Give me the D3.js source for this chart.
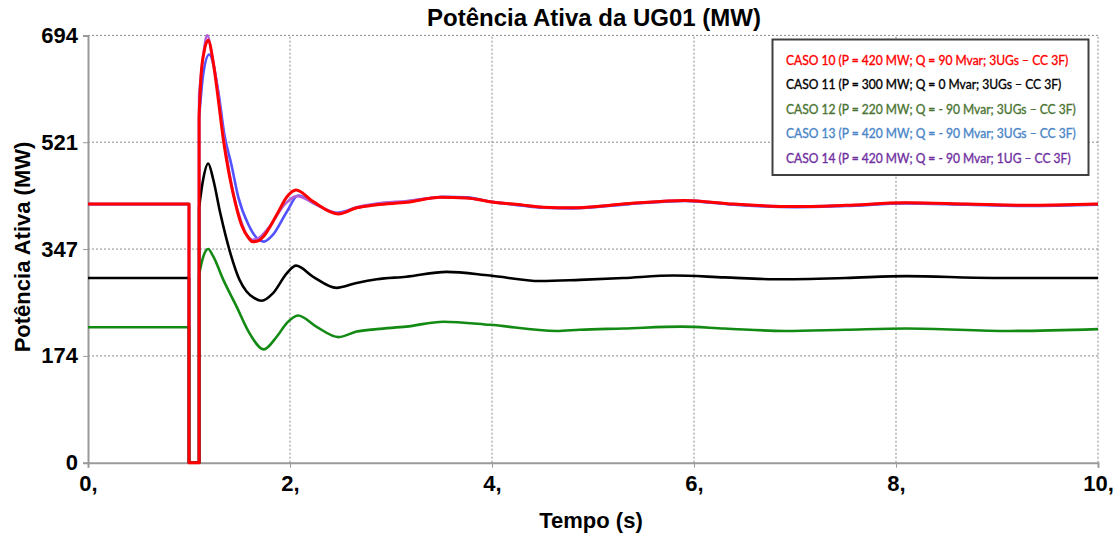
<!DOCTYPE html>
<html><head><meta charset="utf-8">
<script src="https://cdn.jsdelivr.net/npm/d3@7"></script>
<style>body{margin:0;background:#fff} svg{display:block}</style>
</head><body>
<svg id="c" width="1116" height="535"></svg>
<script>
// ---------------- DATA ----------------
const chartTitle = "Potência Ativa da UG01 (MW)";
const xTitle = "Tempo (s)";
const yTitle = "Potência Ativa (MW)";
const xTicks = [0, 2, 4, 6, 8, 10];
const yTicks = [0, 173.5, 347, 520.5, 694];
const caseNames = [
  "CASO 10 (P = 420 MW; Q = 90 Mvar; 3UGs – CC 3F)",
  "CASO 11 (P = 300 MW; Q = 0 Mvar; 3UGs – CC 3F)",
  "CASO 12 (P = 220 MW; Q = - 90 Mvar; 3UGs – CC 3F)",
  "CASO 13 (P = 420 MW; Q = - 90 Mvar; 3UGs – CC 3F)",
  "CASO 14 (P = 420 MW; Q = - 90 Mvar; 1UG – CC 3F)"
];
const preFaultP = [420, 300, 220, 420, 420];
const faultTimes = [1.0, 1.1]; // fault applied, fault cleared
// post-clearing response [t (s), P (MW)]
const caso10 = [[1.10,565],[1.12,630],[1.15,668],[1.19,686],[1.24,650],[1.29,590],[1.34,525],[1.39,475],[1.44,435],[1.52,386],[1.59,365],[1.63,359],[1.68,360],[1.74,368],[1.87,403],[1.97,432],[2.06,443],[2.23,424],[2.48,404],[2.66,414],[2.86,419],[3.16,423],[3.49,431],[3.75,430],[3.98,424],[4.28,419],[4.51,415],[4.80,414],[5.36,421],[5.91,426],[6.39,420],[7.00,416],[7.50,418],[8.10,422],[8.70,420],[9.30,418],[10.0,420]];
const caso11 = [[1.10,415],[1.14,460],[1.19,486],[1.24,460],[1.31,405],[1.41,340],[1.50,297],[1.57,278],[1.64,268],[1.72,263],[1.83,275],[1.97,308],[2.06,320],[2.23,302],[2.46,284],[2.66,292],[2.86,298],[3.15,302],[3.55,310],[3.98,304],[4.48,295],[4.87,297],[5.30,300],[5.80,304],[6.30,301],[6.80,298],[7.50,300],[8.10,303],[8.96,300],[10.0,300]];
const caso12 = [[1.10,306],[1.14,334],[1.19,347],[1.24,335],[1.34,297],[1.47,254],[1.60,210],[1.74,184],[1.87,205],[1.97,227],[2.08,239],[2.26,221],[2.48,204],[2.66,213],[2.86,217],[3.15,221],[3.52,229],[3.98,224],[4.64,214],[4.87,216],[5.30,218],[5.87,221],[6.30,218],[6.90,214],[7.50,216],[8.10,218],[9.13,214],[10.0,217]];
const caso13 = [[1.10,560],[1.14,630],[1.20,663],[1.29,603],[1.35,533],[1.42,484],[1.49,430],[1.59,386],[1.67,365],[1.74,359],[1.83,370],[1.97,408],[2.08,434],[2.25,420],[2.46,406],[2.66,414],[2.86,420],[3.16,424],[3.52,432],[3.75,431],[3.98,424],[4.28,418],[4.51,414],[4.80,413],[5.36,420],[5.91,425],[6.39,419],[7.00,415],[7.50,417],[8.10,421],[8.70,419],[9.30,417],[10.0,419]];
const caso14 = [[1.10,598],[1.14,660],[1.18,694],[1.23,660],[1.28,610],[1.33,545],[1.38,490],[1.44,436],[1.52,390],[1.58,368],[1.63,362],[1.70,366],[1.80,384],[1.95,420],[2.07,433],[2.24,421],[2.47,405],[2.66,415],[2.86,421],[3.16,425],[3.50,431],[3.75,430],[3.98,424],[4.28,419],[4.51,415],[4.80,414],[5.36,421],[5.91,426],[6.39,420],[7.00,416],[7.50,418],[8.10,422],[8.70,420],[9.30,418],[10.0,420]];
const caseData = [caso10, caso11, caso12, caso13, caso14];
const lineColors = ["#ff0000", "#000000", "#138a13", "#5252ff", "#b25fd8"];
const textColors = ["#ff0000", "#000000", "#4b7433", "#4a86c8", "#7030a0"];
const drawOrder = [3, 4, 2, 1, 0];

// ---------------- CHART ----------------
const svg = d3.select("#c");
const W = 1116, H = 535;
const m = {l: 88, r: 18, t: 35.4, b: 72.3};
const x = d3.scaleLinear().domain([0, 10]).range([m.l, W - m.r]);
const y = d3.scaleLinear().domain([0, 694]).range([H - m.b, m.t]);
const FONT = "'Liberation Sans', Arial, sans-serif";

// gridlines
const grid = svg.append("g");
grid.selectAll(".gx").data(xTicks.filter(d => d > 0)).join("line")
  .attr("x1", d => x(d)).attr("x2", d => x(d))
  .attr("y1", y(0)).attr("y2", y(694))
  .attr("stroke", "#8a8a8a").attr("stroke-width", 1).attr("stroke-dasharray", "2,2");
grid.selectAll(".gy").data(yTicks.filter(d => d > 0)).join("line")
  .attr("x1", x(0)).attr("x2", x(10))
  .attr("y1", d => y(d)).attr("y2", d => y(d))
  .attr("stroke", "#8a8a8a").attr("stroke-width", 1).attr("stroke-dasharray", "2,2");

// axes
const xAxis = svg.append("g").attr("transform", `translate(0,${y(0)})`)
  .call(d3.axisBottom(x).tickValues(xTicks).tickFormat(d => d + ",").tickSize(5).tickPadding(8));
const yAxis = svg.append("g").attr("transform", `translate(${x(0)},0)`)
  .call(d3.axisLeft(y).tickValues(yTicks).tickFormat(d => Math.round(d)).tickSize(5).tickPadding(5));
[xAxis, yAxis].forEach(a => {
  a.select(".domain").attr("stroke", "#9a9a9a").attr("stroke-width", 2);
  a.selectAll(".tick line").attr("stroke", "#9a9a9a");
  a.selectAll("text").attr("font-family", FONT).attr("font-weight", "bold")
    .attr("font-size", 22).attr("fill", "#000");
});

// lines
const lineSmooth = d3.line().x(d => x(d[0])).y(d => y(d[1])).curve(d3.curveMonotoneX);
const lineStep = d3.line().x(d => x(d[0])).y(d => y(d[1]));
drawOrder.forEach(i => {
  const data = caseData[i];
  const step = [[0, preFaultP[i]], [faultTimes[0], preFaultP[i]], [faultTimes[0], 0],
                [faultTimes[1], 0], data[0]];
  const g = svg.append("g").attr("fill", "none").attr("stroke", lineColors[i])
    .attr("stroke-width", i === 0 ? 3 : 2.6).attr("stroke-linejoin", "round");
  g.append("path").attr("d", lineStep(step));
  g.append("path").attr("d", lineSmooth(data));
});

// titles
svg.append("text").attr("x", 594).attr("y", 26).attr("text-anchor", "middle")
  .attr("font-family", FONT).attr("font-weight", "bold").attr("font-size", 24).text(chartTitle);
svg.append("text").attr("x", 591).attr("y", 528).attr("text-anchor", "middle")
  .attr("font-family", FONT).attr("font-weight", "bold").attr("font-size", 22).text(xTitle);
svg.append("text").attr("transform", "translate(30,247) rotate(-90)").attr("text-anchor", "middle")
  .attr("font-family", FONT).attr("font-weight", "bold").attr("font-size", 22).text(yTitle);

// legend
const lg = svg.append("g");
lg.append("rect").attr("x", 772.5).attr("y", 39.5).attr("width", 316).attr("height", 135.5)
  .attr("fill", "#fff").attr("stroke", "#404040").attr("stroke-width", 2);
const LFONT = "Lato, 'Open Sans', sans-serif";
const LFS = 13.2;
const probe = lg.append("text").attr("font-family", LFONT).attr("font-size", LFS).text(caseNames[2]);
const sx = 290 / probe.node().getComputedTextLength();
probe.remove();
const lt = lg.append("g").attr("transform", `translate(786,0) scale(${sx},1)`);
caseNames.forEach((name, i) => {
  lt.append("text").attr("x", 0).attr("y", 60 + i * 24.6).attr("dy", "0.35em")
    .attr("font-family", LFONT).attr("font-weight", "normal").attr("font-size", LFS)
    .attr("fill", textColors[i]).attr("stroke", textColors[i]).attr("stroke-width", 0.35)
    .text(name);
});
</script>
</body></html>
